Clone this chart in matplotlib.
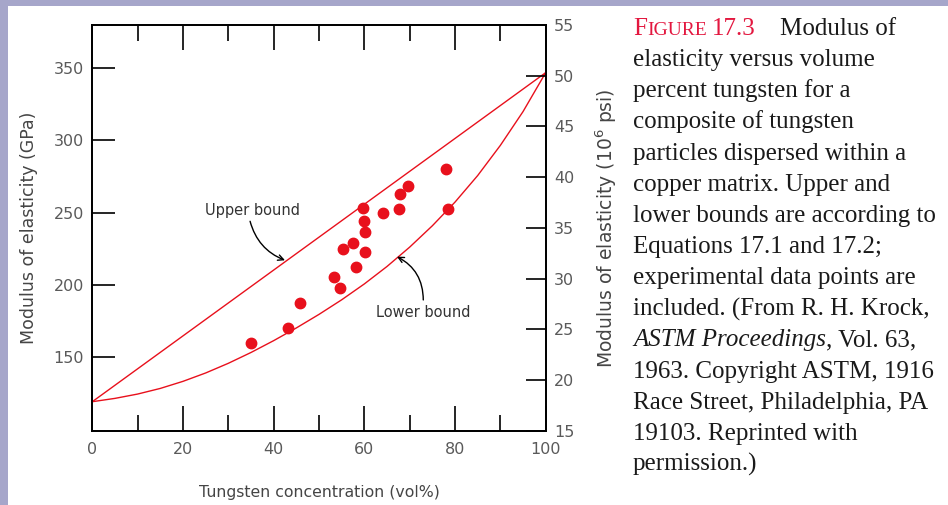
import matplotlib
matplotlib.use('Agg')
import matplotlib.pyplot as plt
from matplotlib.patches import Rectangle
from matplotlib.ticker import MultipleLocator

W, H, DPI = 948, 505, 100

# ---------------- data ----------------
vol_points = [34.9, 43.2, 45.8, 53.3, 54.6, 55.2, 57.4, 58.2, 59.7, 59.9,
              60.2, 60.2, 64.1, 67.7, 67.9, 69.7, 78.0, 78.5]
E_points = [159.9, 169.9, 187.2, 205.6, 198.0, 224.8, 228.8, 212.6, 253.4, 244.4,
            236.8, 223.0, 249.5, 252.5, 262.9, 268.5, 280.2, 252.5]

upper_vol = [0, 50, 100]
upper_E = [119, 233, 347]

lower_vol = [0, 5, 10, 15, 20, 25, 30, 35, 40, 45, 50, 55, 60, 65, 70, 75, 80, 85, 90, 95, 100]
lower_E = [119, 121.3, 124.3, 128.2, 133.1, 138.9, 145.6, 153.1, 161.3, 170.1, 179.5,
           189.6, 200.6, 212.7, 226.1, 240.9, 257.3, 275.7, 296.6, 320.0, 347]

x_ticks = [0, 20, 40, 60, 80, 100]
left_ticks = [150, 200, 250, 300, 350]
right_ticks = [15, 20, 25, 30, 35, 40, 45, 50, 55]

caption_lines = [
    "elasticity versus volume",
    "percent tungsten for a",
    "composite of tungsten",
    "particles dispersed within a",
    "copper matrix. Upper and",
    "lower bounds are according to",
    "Equations 17.1 and 17.2;",
    "experimental data points are",
    "included. (From R. H. Krock,",
    None,  # italic line handled separately
    "1963. Copyright ASTM, 1916",
    "Race Street, Philadelphia, PA",
    "19103. Reprinted with",
    "permission.)",
]

# ---------------- figure ----------------
fig = plt.figure(figsize=(W / DPI, H / DPI), dpi=DPI)
fig.patch.set_facecolor('white')

def px(x):
    return x / W

def py(y_from_top):
    return 1 - y_from_top / H

# purple frame bands
band = '#A6A6CA'
fig.add_artist(Rectangle((0, 0), px(8), 1, transform=fig.transFigure,
                         facecolor=band, edgecolor='none', zorder=0))
fig.add_artist(Rectangle((0, py(6)), 1, 6 / H, transform=fig.transFigure,
                         facecolor=band, edgecolor='none', zorder=0))

ax_l, ax_r, ax_t, ax_b = 92.3, 545.7, 25, 431
ax = fig.add_axes([px(ax_l), py(ax_b), px(ax_r - ax_l), (ax_b - ax_t) / H])
ax.set_xlim(0, 100)
ax.set_ylim(98.7, 380)

red = '#E8101C'
ax.plot(upper_vol, upper_E, color=red, lw=1.0, zorder=3)
ax.plot(lower_vol, lower_E, color=red, lw=1.0, zorder=3)
ax.plot(vol_points, E_points, linestyle='none', marker='o', ms=7.5,
        color=red, markeredgecolor=red, zorder=4)

tick_col = '#5a5a5a'
lab_col = '#454545'
ax.set_xticks(x_ticks)
ax.xaxis.set_minor_locator(MultipleLocator(10))
ax.set_yticks(left_ticks)
ax.tick_params(axis='x', which='major', direction='in', length=18, width=1.2,
               top=True, bottom=True, labelsize=11.5, labelcolor=tick_col, pad=8)
ax.tick_params(axis='x', which='minor', direction='in', length=11.5, width=1.2,
               top=True, bottom=True)
ax.tick_params(axis='y', which='major', direction='in', length=16.5, width=1.2,
               left=True, right=False, labelsize=11.5, labelcolor=tick_col, pad=6)
for s in ax.spines.values():
    s.set_linewidth(1.3)
    s.set_color('black')

ax.set_xlabel('Tungsten concentration (vol%)', fontsize=11.3, color=lab_col, labelpad=20)
ax.set_ylabel('Modulus of elasticity (GPa)', fontsize=12.5, color=lab_col, labelpad=11)

ax2 = ax.twinx()
ax2.set_ylim(15, 55)
ax2.set_yticks(right_ticks)
ax2.tick_params(axis='y', which='major', direction='in', length=14.5, width=1.2,
                right=True, left=False, labelsize=11.5, labelcolor=tick_col, pad=6)
for s in ax2.spines.values():
    s.set_linewidth(1.3)
ax2.set_ylabel('Modulus of elasticity (10$^6$ psi)', fontsize=13.5, color=lab_col,
               rotation=90, labelpad=14)

# annotations
ax.text(35.4, 251.5, 'Upper bound', ha='center', va='center', fontsize=10.5, color='#333333')
ax.annotate('', xy=(42.5, 217.0), xytext=(34.8, 244.0),
            arrowprops=dict(arrowstyle='->', color='black', lw=1.0,
                            connectionstyle='arc3,rad=0.25', shrinkA=0, shrinkB=0))
ax.text(73.0, 180.5, 'Lower bound', ha='center', va='center', fontsize=10.5, color='#333333')
ax.annotate('', xy=(67.2, 219.5), xytext=(73.0, 189.5),
            arrowprops=dict(arrowstyle='->', color='black', lw=1.0,
                            connectionstyle='arc3,rad=0.3', shrinkA=0, shrinkB=0))

# ---------------- caption ----------------
serif = 'Liberation Serif'
cap_size = 18
cap_col = '#1a1a1a'
cap_red = '#E3173F'
x0 = 633
line_h = 31.14
base0 = 35

renderer = fig.canvas.get_renderer()

def put(x, y_top, s, **kw):
    t = fig.text(px(x), py(y_top), s, ha='left', va='baseline', family=serif, **kw)
    bb = t.get_window_extent(renderer)
    return bb.x1

x = put(x0, base0, 'F', fontsize=cap_size, color=cap_red)
x = put(x, base0, 'IGURE', fontsize=cap_size * 0.78, color=cap_red)
x = put(x + 5, base0, '17.3', fontsize=cap_size, color=cap_red)
put(780, base0, 'Modulus of', fontsize=cap_size, color=cap_col)

for i, line in enumerate(caption_lines, start=1):
    yb = base0 + line_h * i
    if line is None:
        xx = put(x0, yb, 'ASTM Proceedings', fontsize=cap_size, color=cap_col, style='italic')
        put(xx, yb, ', Vol. 63,', fontsize=cap_size, color=cap_col)
    else:
        put(x0, yb, line, fontsize=cap_size, color=cap_col)

fig.savefig('out.png', dpi=DPI)
